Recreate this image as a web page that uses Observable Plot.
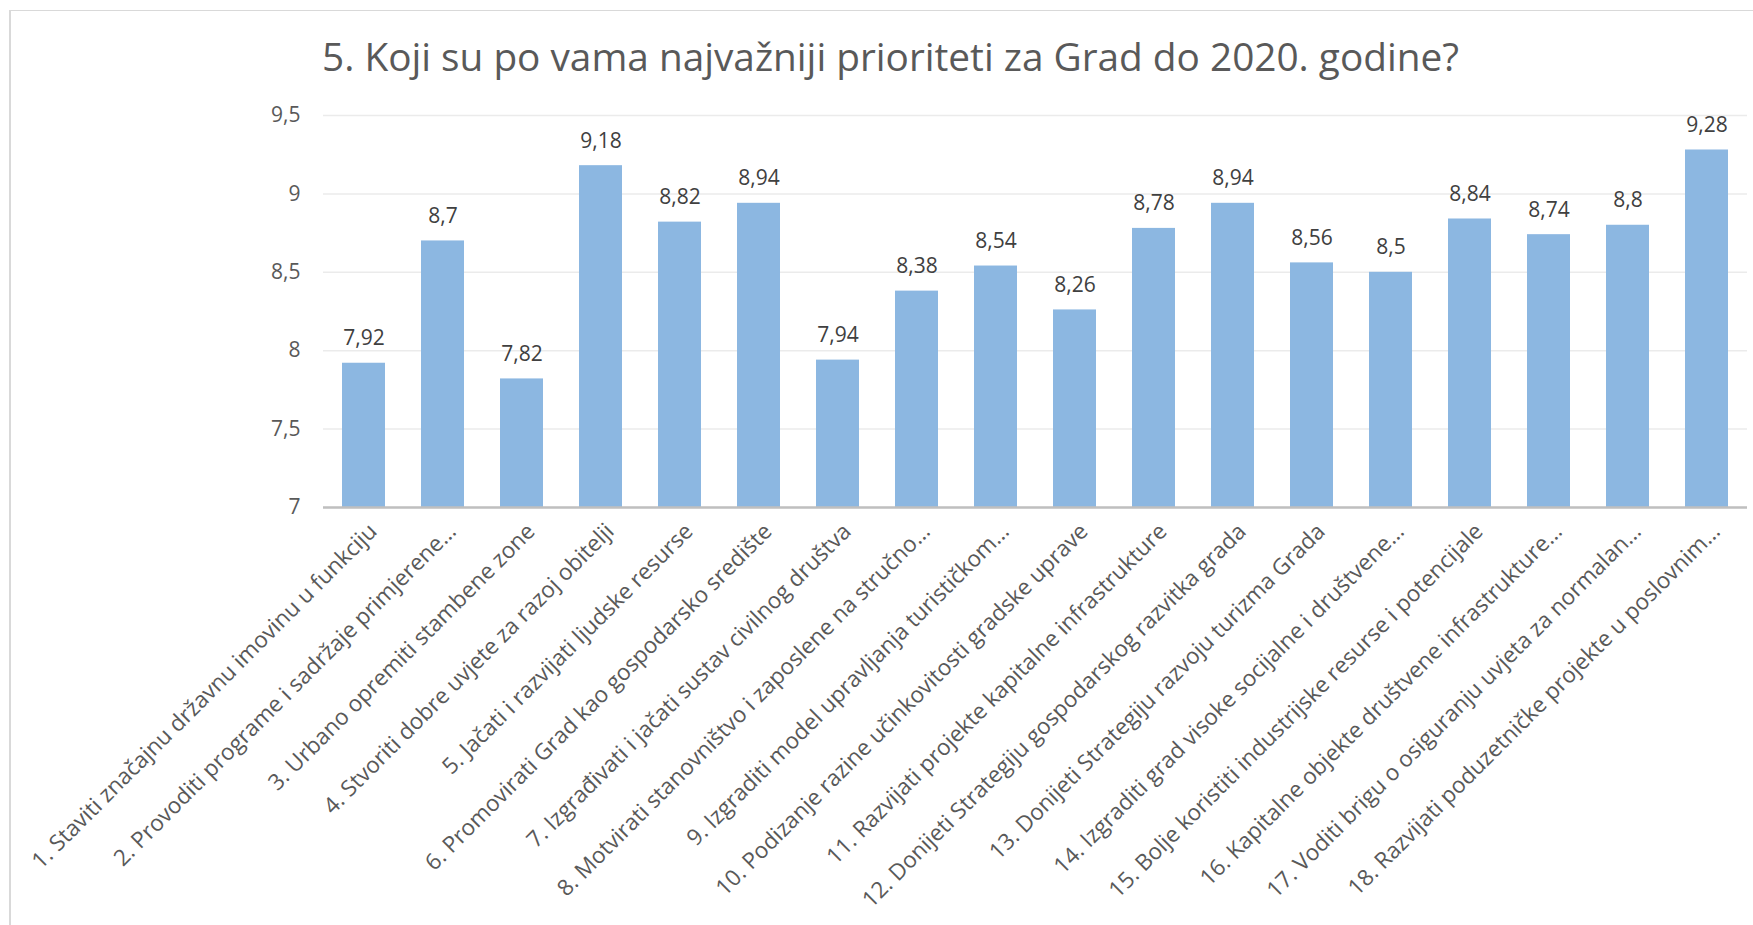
<!DOCTYPE html>
<html><head><meta charset="utf-8">
<script src="https://cdn.jsdelivr.net/npm/d3@7"></script>
<script src="https://cdn.jsdelivr.net/npm/@observablehq/plot@0.6"></script>
<style>
html,body{margin:0;padding:0;background:#fff;}
#wrap{position:relative;width:1753px;height:925px;overflow:hidden;font-family:"Open Sans",sans-serif;}
#frame{position:absolute;left:9px;top:10px;width:2000px;height:1000px;border-left:2px solid #d9d9d9;border-top:1.5px solid #d9d9d9;}
#title{position:absolute;left:322px;top:36px;font-size:39px;line-height:39px;color:#595959;white-space:nowrap;transform-origin:0 0;}
#chart{position:absolute;left:0;top:0;}
</style></head><body>
<div id="wrap"><div id="frame"></div><div id="chart"></div><div id="title"></div></div>
<script>
const title = "5. Koji su po vama najvažniji prioriteti za Grad do 2020. godine?";
const categories = [
  "1. Staviti značajnu državnu imovinu u funkciju",
  "2. Provoditi programe i sadržaje primjerene…",
  "3. Urbano opremiti stambene zone",
  "4. Stvoriti dobre uvjete za razoj obitelji",
  "5. Jačati i razvijati ljudske resurse",
  "6. Promovirati Grad kao gospodarsko središte",
  "7. Izgrađivati i jačati sustav civilnog društva",
  "8. Motvirati stanovništvo i zaposlene na stručno…",
  "9. Izgraditi model upravljanja turističkom…",
  "10. Podizanje razine učinkovitosti gradske uprave",
  "11. Razvijati projekte kapitalne infrastrukture",
  "12. Donijeti Strategiju gospodarskog razvitka grada",
  "13. Donijeti Strategiju razvoju turizma Grada",
  "14. Izgraditi grad visoke socijalne i društvene…",
  "15. Bolje koristiti industrijske resurse i potencijale",
  "16. Kapitalne objekte društvene infrastrukture…",
  "17. Voditi brigu o osiguranju uvjeta za normalan…",
  "18. Razvijati poduzetničke projekte u poslovnim…"
];
const values = [7.92, 8.7, 7.82, 9.18, 8.82, 8.94, 7.94, 8.38, 8.54, 8.26, 8.78, 8.94, 8.56, 8.5, 8.84, 8.74, 8.8, 9.28];
const yTicks = [7, 7.5, 8, 8.5, 9, 9.5];

const data = categories.map((c, i) => ({cat: c, value: values[i]}));
const fmt = v => String(v).replace(".", ",");

const chart = Plot.plot({
  width: 1753, height: 925,
  marginTop: 115, marginBottom: 418, marginLeft: 323, marginRight: 6,
  style: {fontFamily: "'Open Sans', sans-serif", background: "transparent", overflow: "visible"},
  x: {domain: categories, paddingInner: 0.45, paddingOuter: 0.225, axis: null},
  y: {domain: [yTicks[0], yTicks[yTicks.length - 1]], label: null},
  marks: [
    Plot.gridY(yTicks, {stroke: "#ebebeb", strokeOpacity: 1, strokeWidth: 1.5}),
    Plot.axisY(yTicks, {tickSize: 0, tickPadding: 23, fontSize: 21, fill: "#595959", tickFormat: fmt, label: null}),
    Plot.barY(data, {x: "cat", y1: yTicks[0], y2: "value", fill: "#8cb7e1"}),
    Plot.ruleY([yTicks[0]], {stroke: "#bfbfbf", strokeWidth: 2.5}),
    Plot.text(data, {x: "cat", y: "value", text: d => fmt(d.value), lineAnchor: "bottom", dy: -18, fontSize: 21, fill: "#404040"}),
    Plot.text(data, {x: "cat", y: yTicks[0], text: "cat", rotate: -45, textAnchor: "end", lineAnchor: "top", dx: 3, dy: 14, fontSize: 22.5, fill: "#595959"})
  ]
});
document.getElementById("chart").appendChild(chart);

const t = document.getElementById("title");
t.textContent = title;
const targetWidth = 1137;
const w = t.getBoundingClientRect().width;
t.style.transform = `scaleX(${targetWidth / w})`;
</script>
</body></html>
